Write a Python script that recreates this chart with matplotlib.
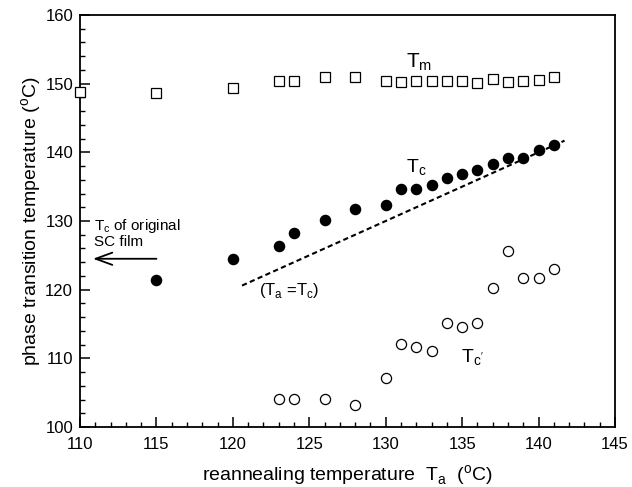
import matplotlib
matplotlib.use("Agg")
import matplotlib.pyplot as plt
from matplotlib.ticker import MultipleLocator

plt.rcParams["font.family"] = ["Liberation Sans", "DejaVu Sans"]
plt.rcParams["mathtext.fontset"] = "custom"
plt.rcParams["mathtext.rm"] = "Liberation Sans"

# Tm (open squares)
tm_ta = [110, 115, 120, 123, 124, 126, 128, 130, 131, 132, 133, 134, 135, 136, 137, 138, 139, 140, 141]
tm_val = [148.8, 148.6, 149.4, 150.4, 150.4, 151.0, 151.0, 150.4, 150.2, 150.4, 150.4, 150.4,
          150.4, 150.1, 150.7, 150.2, 150.4, 150.6, 150.9]

# Tc (filled circles)
tc_ta = [115, 120, 123, 124, 126, 128, 130, 131, 132, 133, 134, 135, 136, 137, 138, 139, 140, 141]
tc_val = [121.4, 124.4, 126.3, 128.2, 130.1, 131.8, 132.4, 134.6, 134.6, 135.3, 136.3, 136.8,
          137.4, 138.3, 139.2, 139.2, 140.4, 141.0]

# Tc' (open circles)
tcp_ta = [123, 124, 126, 128, 130, 131, 132, 133, 134, 135, 136, 137, 138, 139, 140, 141]
tcp_val = [104.1, 104.1, 104.1, 103.2, 107.1, 112.1, 111.7, 111.1, 115.2, 114.6, 115.2, 120.2,
           125.6, 121.7, 121.7, 123.0]

# Ta = Tc reference line
ref_x = [120.6, 141.7]

fig = plt.figure(figsize=(6.32, 4.87), dpi=100)
ax = fig.add_axes([0.1266, 0.1232, 0.8465, 0.846])

ax.plot(tm_ta, tm_val, "s", ms=6.6, mfc="white", mec="black", mew=0.9, clip_on=False, zorder=3)
ax.plot(tc_ta, tc_val, "o", ms=7.3, mfc="black", mec="black", zorder=3)
ax.plot(tcp_ta, tcp_val, "o", ms=7.3, mfc="white", mec="black", mew=0.9, zorder=3)
ax.plot(ref_x, ref_x, color="black", ls=(0, (2.5, 1.6)), lw=1.5)

ax.set_xlim(110, 145)
ax.set_ylim(100, 160)
ax.xaxis.set_major_locator(MultipleLocator(5))
ax.xaxis.set_minor_locator(MultipleLocator(1))
ax.yaxis.set_major_locator(MultipleLocator(10))
ax.yaxis.set_minor_locator(MultipleLocator(2))
ax.tick_params(which="both", direction="in", top=False, right=False, labelsize=12)
ax.tick_params(which="major", length=7, width=1.1)
ax.tick_params(which="minor", length=3.5, width=1.0)
ax.tick_params(axis="x", pad=7)
ax.tick_params(axis="y", pad=5)
for s in ax.spines.values():
    s.set_linewidth(1.3)

ax.set_xlabel(r"reannealing temperature  T$_\mathregular{a}$  ($^\mathregular{o}$C)", fontsize=14, labelpad=8)
ax.set_ylabel(r"phase transition temperature ($^\mathregular{o}$C)", fontsize=14, labelpad=1)

ax.text(131.3, 152.3, r"T$_\mathregular{m}$", fontsize=15, va="baseline")
ax.text(131.3, 137.0, r"T$_\mathregular{c}$", fontsize=14, va="baseline")
ax.text(134.9, 109.4, r"T$_\mathregular{c'}$", fontsize=14, va="baseline")
ax.text(121.7, 119.2, r"(T$_\mathregular{a}$ =T$_\mathregular{c}$)", fontsize=12, va="baseline")
ax.text(110.9, 130.6, "T$_\\mathregular{c}$ of original\nSC film", fontsize=11, va="top",
        linespacing=1.0)
ax.annotate("", xy=(110.85, 124.5), xytext=(115.0, 124.5),
            arrowprops=dict(arrowstyle="->, head_length=0.6, head_width=0.22",
                            lw=1.3, color="black", mutation_scale=20,
                            shrinkA=0, shrinkB=0))

fig.savefig("out.png", dpi=100)
